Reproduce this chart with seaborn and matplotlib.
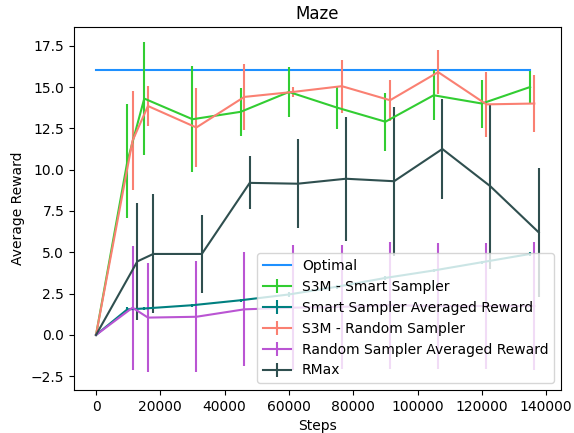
import matplotlib
matplotlib.use("Agg")
import matplotlib.pyplot as plt
import seaborn as sns
import pandas as pd

# Optimal
opt_steps = [0, 135000]
opt_reward = [16.0, 16.0]

# S3M - Smart Sampler
smart_steps = [0, 9750, 15000, 30000, 45000, 60000, 75000, 90000, 105000, 120000, 135000]
smart_reward = [0, 10.5, 14.3, 13.05, 13.5, 14.7, 13.75, 12.9, 14.5, 14.0, 15.0]
smart_err = [0, 3.45, 3.4, 3.2, 1.45, 1.5, 1.3, 1.75, 1.5, 1.45, 0.95]

# Smart Sampler Averaged Reward
smart_avg_reward = [0, 1.55, 1.6, 1.8, 2.1, 2.45, 2.92, 3.45, 3.9, 4.4, 4.9]
smart_avg_err = [0, 0.15, 0.12, 0.1, 0.1, 0.15, 0.12, 0.12, 0.1, 0.1, 0.1]

# S3M - Random Sampler
random_steps = [0, 11350, 16150, 31200, 46100, 61200, 76450, 91450, 106400, 121400, 136300]
random_reward = [0, 11.75, 13.85, 12.55, 14.4, 14.7, 15.05, 14.2, 15.9, 13.95, 14.0]
random_err = [0, 3.0, 1.2, 2.4, 2.0, 0.3, 1.6, 1.25, 1.35, 1.95, 1.75]

# Random Sampler Averaged Reward
random_avg_reward = [0, 1.65, 1.05, 1.1, 1.55, 1.65, 1.7, 1.8, 1.75, 1.75, 1.75]
random_avg_err = [0, 3.75, 3.3, 3.35, 3.45, 3.8, 3.75, 3.85, 3.8, 3.8, 3.85]

# RMax
rmax_steps = [0, 12850, 17800, 32900, 47800, 62700, 77700, 92700, 107700, 122600, 137700]
rmax_reward = [0, 4.45, 4.9, 4.9, 9.2, 9.15, 9.45, 9.3, 11.25, 9.0, 6.2]
rmax_err = [0, 3.55, 3.6, 2.35, 1.6, 2.7, 3.75, 4.5, 3.05, 5.0, 3.9]

fig = plt.figure(figsize=(5.74, 4.33), dpi=100)
ax = fig.add_axes([74 / 574, 1 - 390 / 433, (561 - 74) / 574, (390 - 27) / 433])

opt_df = pd.DataFrame({"Steps": opt_steps, "Reward": opt_reward})
sns.lineplot(data=opt_df, x="Steps", y="Reward", color="dodgerblue", label="Optimal",
             ax=ax, linewidth=1.5)

ax.errorbar(smart_steps, smart_reward, yerr=smart_err, color="limegreen",
            label="S3M - Smart Sampler", linewidth=1.5)
ax.errorbar(smart_steps, smart_avg_reward, yerr=smart_avg_err, color="teal",
            label="Smart Sampler Averaged Reward", linewidth=1.5)
ax.errorbar(random_steps, random_reward, yerr=random_err, color="salmon",
            label="S3M - Random Sampler", linewidth=1.5)
ax.errorbar(random_steps, random_avg_reward, yerr=random_avg_err, color="mediumorchid",
            label="Random Sampler Averaged Reward", linewidth=1.5)
ax.errorbar(rmax_steps, rmax_reward, yerr=rmax_err, color="darkslategray",
            label="RMax", linewidth=1.5)

ax.set_title("Maze")
ax.set_xlabel("Steps")
ax.set_ylabel("Average Reward")
ax.set_xticks([0, 20000, 40000, 60000, 80000, 100000, 120000, 140000])
ax.set_yticks([-2.5, 0.0, 2.5, 5.0, 7.5, 10.0, 12.5, 15.0, 17.5])
ax.set_xlim(-6850, 144600)
ax.set_ylim(-3.33, 18.63)
ax.legend(loc="lower right")

fig.savefig("out.png", dpi=100)
